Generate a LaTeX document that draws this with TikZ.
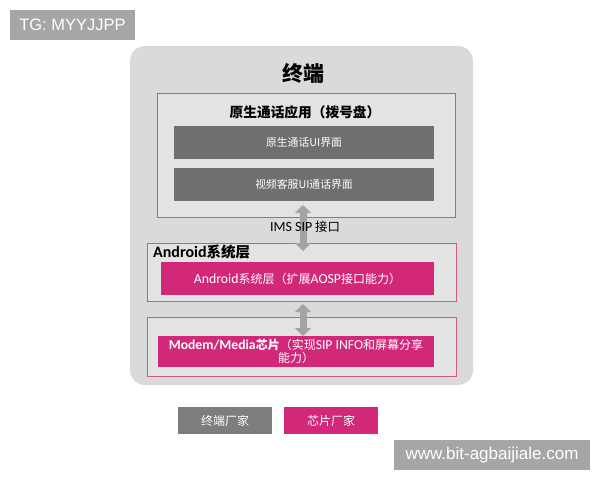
\documentclass[tikz,border=0pt]{standalone}
\usepackage{fontspec}
\setmainfont{Noto Sans CJK SC}
\newfontfamily\lat{Carlito}
\newfontfamily\helv{Liberation Sans}
\usetikzlibrary{arrows.meta,calc}
\definecolor{bggray}{HTML}{DADADA}
\definecolor{boxgray}{HTML}{E3E3E3}
\definecolor{bargray}{HTML}{6F6F6F}
\definecolor{leggray}{HTML}{7D7D7D}
\definecolor{mag}{HTML}{D2287A}
\definecolor{magline}{HTML}{D25A8A}
\definecolor{arrgray}{HTML}{A3A3A3}
\definecolor{wm}{HTML}{A6A6A6}
\tikzset{
  bar/.style={fill=bargray, draw=none, text=white, minimum width=260pt, minimum height=33pt, font=\fontsize{10.8}{12}\selectfont, inner sep=0pt},
  magbar/.style={fill=mag, draw=none, text=white, minimum width=273pt, minimum height=33pt, font=\fontsize{12}{14}\selectfont, inner sep=0pt},
  layer/.style={draw=magline, line width=0.8pt, fill=boxgray, minimum width=309pt, inner sep=0pt},
  dblarrow/.style={draw=arrgray, line width=7pt, {Triangle[width=16pt,length=8pt]}-{Triangle[width=16pt,length=8pt]}},
  legend/.style={text=white, minimum width=94pt, minimum height=27pt, inner sep=0pt, font=\fontsize{12}{14}\selectfont},
  wmark/.style={fill=wm, text=white, inner sep=0pt, font=\helv\fontsize{17}{20}\selectfont},
}
\begin{document}
\begin{tikzpicture}[x=1pt,y=-1pt]
\useasboundingbox (0,0) rectangle (600,480);
\fill[white] (0,0) rectangle (600,480);
% TG watermark
\node[wmark, font=\helv\fontsize{16.5}{20}\selectfont, minimum width=125pt, minimum height=30pt] (tg) at (72.5,25) {TG: MYYJJPP};
% main terminal box
\node[fill=bggray, rounded corners=15pt, minimum width=343pt, minimum height=339pt, inner sep=0pt] (term) at (301.5,215.5) {};
\node[font=\bfseries\fontsize{21}{24}\selectfont] (termt) at (303,73) {终端};
% app box
\node[draw=gray, line width=0.6pt, fill=boxgray, minimum width=298pt, minimum height=124pt, inner sep=0pt] (app) at (306,155) {};
\node[font=\bfseries\fontsize{13.7}{16}\selectfont] (appt) at (305,112) {原生通话应用（拨号盘）};
\node[bar] (ui1) at (304,142.5) {原生通话UI界面};
\node[bar] (ui2) at (304,184.5) {视频客服UI通话界面};
% android layer
\node[layer, minimum height=58pt] (and) at (301.5,272) {};
\node[font=\bfseries\fontsize{14.5}{16}\selectfont, anchor=west, inner sep=0pt] (andt) at (153,252) {{\lat\fontsize{16}{18}\selectfont Android}系统层};
\node[magbar] (andb) at (297.5,278.5) {{\lat\fontsize{13.8}{16}\selectfont Android}系统层（扩展{\lat\fontsize{13.8}{16}\selectfont AOSP}接口能力）};
% modem layer
\node[layer, minimum height=59pt] (mod) at (301.5,346.5) {};
\node[magbar, minimum width=276pt, minimum height=31pt, align=center, font=\fontsize{12}{13}\selectfont] (modb) at (296,351.5) {{\lat\bfseries\fontsize{13.7}{13}\selectfont Modem/Media}\textbf{芯片}（实现{\lat\fontsize{13.7}{13}\selectfont SIP INFO}和屏幕分享\\能力）};
% arrows
\coordinate (a1t) at (303,205);
\coordinate (a1b) at (303,251);
\draw[dblarrow] (a1t) -- (a1b);
\node[font=\fontsize{12.4}{14}\selectfont, inner sep=0pt] (ims) at (305,227) {{\lat\fontsize{14}{16}\selectfont IMS SIP} 接口};
\coordinate (a2t) at (303,304);
\coordinate (a2b) at (303,336);
\draw[dblarrow] (a2t) -- (a2b);
% legend
\node[legend, fill=leggray] (lg1) at (225,420.5) {终端厂家};
\node[legend, fill=mag] (lg2) at (331,420.5) {芯片厂家};
% bottom watermark
\node[wmark, minimum width=196pt, minimum height=30pt] (wmb) at (492,455) {www.bit-agbaijiale.com};
\end{tikzpicture}
\end{document}
